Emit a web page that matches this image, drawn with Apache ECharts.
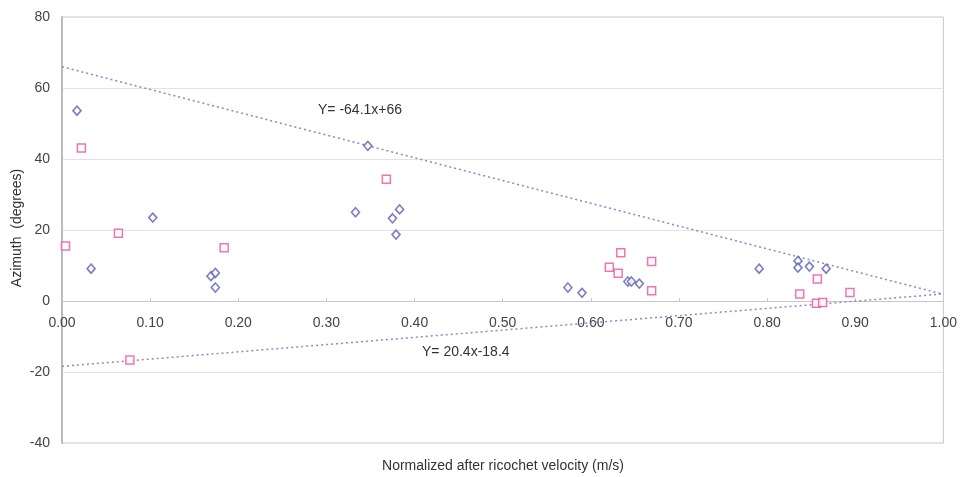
<!DOCTYPE html>
<html>
<head>
<meta charset="utf-8">
<script src="https://cdn.jsdelivr.net/npm/echarts@6/dist/echarts.min.js"></script>
<style>
  html, body { margin: 0; padding: 0; background: #fff; }
  #chart { width: 960px; height: 477px; }
</style>
</head>
<body>
<div id="chart"></div>
<script>
// 数据：蓝色菱形
const diamondX = [0.017, 0.033, 0.103, 0.169, 0.174, 0.174, 0.333, 0.347, 0.375, 0.383, 0.379,
                  0.574, 0.590, 0.642, 0.646, 0.655, 0.791, 0.835, 0.835, 0.848, 0.867];
const diamondY = [53.6, 9.1, 23.5, 7.0, 7.9, 3.8, 25.0, 43.7, 23.3, 25.8, 18.7,
                  3.8, 2.3, 5.5, 5.5, 4.9, 9.1, 11.3, 9.4, 9.7, 9.1];

// 数据：粉色方块
const squareX = [0.004, 0.022, 0.064, 0.077, 0.184, 0.368, 0.621, 0.634, 0.631, 0.669, 0.669,
                 0.837, 0.857, 0.856, 0.863, 0.894];
const squareY = [15.5, 43.1, 19.1, -16.6, 15.0, 34.3, 9.5, 13.6, 7.8, 11.1, 2.9,
                 2.0, 6.2, -0.6, -0.4, 2.4];

// 趋势线端点
const upperLine = [[0, 66], [1, 1.9]];
const lowerLine = [[0, -18.4], [1, 2.0]];
const upperLabel = 'Y= -64.1x+66';
const lowerLabel = 'Y= 20.4x-18.4';

const xTicks = { min: 0, max: 1, interval: 0.1 };
const yTicks = { min: -40, max: 80, interval: 20 };

function zip(xs, ys) {
    return xs.map((x, i) => [x, ys[i]]);
}

const chart = echarts.init(document.getElementById('chart'));
const font = 'Liberation Sans, Arial, sans-serif';

chart.setOption({
    animation: false,
    grid: {
        left: 62, right: 16, top: 17, bottom: 34,
        show: true,
        borderColor: '#c8c8c8',
        borderWidth: 1
    },
    xAxis: {
        type: 'value',
        min: xTicks.min, max: xTicks.max, interval: xTicks.interval,
        offset: -142, // 把坐标轴放在 y=0 处
        axisLine: { onZero: false, lineStyle: { color: '#c8c8c8' } },
        axisTick: { show: true, length: 3, inside: true, lineStyle: { color: '#c8c8c8' } },
        axisLabel: {
            fontFamily: font, fontSize: 14, color: '#444', margin: 15,
            formatter: v => v.toFixed(2)
        },
        splitLine: { show: false }
    },
    yAxis: {
        type: 'value',
        min: yTicks.min, max: yTicks.max, interval: yTicks.interval,
        axisLine: { show: true, onZero: false, lineStyle: { color: '#bbb', width: 2 } },
        axisTick: { show: false },
        axisLabel: { fontFamily: font, fontSize: 14, color: '#444', margin: 12 },
        splitLine: { show: true, lineStyle: { color: '#e2e2e2' } }
    },
    graphic: [
        {
            type: 'text', left: 318, top: 103,
            style: { text: upperLabel, font: '14px ' + font, fill: '#333' }
        },
        {
            type: 'text', left: 422, top: 345,
            style: { text: lowerLabel, font: '14px ' + font, fill: '#333' }
        },
        {
            type: 'text', x: 503, y: 466,
            style: { text: 'Normalized after ricochet velocity (m/s)', font: '14px ' + font, fill: '#333',
                     align: 'center', verticalAlign: 'middle' }
        },
        {
            type: 'text', x: 17, y: 228, rotation: Math.PI / 2,
            style: { text: 'Azimuth  (degrees)', font: '14px ' + font, fill: '#333',
                     align: 'center', verticalAlign: 'middle' }
        }
    ],
    series: [
        {
            type: 'line',
            data: upperLine,
            symbol: 'none',
            lineStyle: { color: '#8a8ac8', width: 1.5, type: [2, 3] },
            z: 1
        },
        {
            type: 'line',
            data: lowerLine,
            symbol: 'none',
            lineStyle: { color: '#8a8ac8', width: 1.5, type: [2, 3] },
            z: 1
        },
        {
            type: 'scatter',
            data: zip(diamondX, diamondY),
            symbol: 'diamond',
            symbolSize: [8, 9],
            itemStyle: { color: '#fff', borderColor: '#5b5bb0', borderWidth: 1.6 },
            z: 3
        },
        {
            type: 'scatter',
            data: zip(squareX, squareY),
            symbol: 'rect',
            symbolSize: 8,
            itemStyle: { color: '#fff', borderColor: '#f0509f', borderWidth: 1.5 },
            z: 3
        }
    ]
});
</script>
</body>
</html>
